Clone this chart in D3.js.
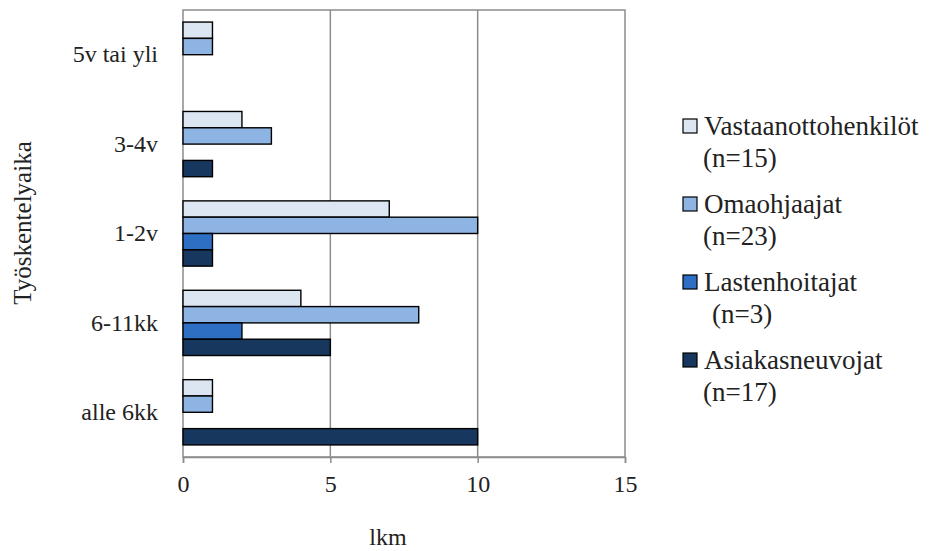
<!DOCTYPE html>
<html><head><meta charset="utf-8">
<script src="https://cdn.jsdelivr.net/npm/d3@7/dist/d3.min.js"></script>
<style>body{margin:0;background:#fff}svg{display:block}text{font-family:"Liberation Serif","Times New Roman","DejaVu Serif","Noto Serif",serif;fill:#222}</style>
</head><body><svg id="c" width="937" height="551"></svg>
<script>
const categories = ["5v tai yli", "3-4v", "1-2v", "6-11kk", "alle 6kk"];
const seriesNames = ["Vastaanottohenkilöt", "Omaohjaajat", "Lastenhoitajat", "Asiakasneuvojat"];
const seriesN = ["(n=15)", "(n=23)", "(n=3)", "(n=17)"];
const vastaanotto = [1, 2, 7, 4, 1];
const omaohjaajat = [1, 3, 10, 8, 1];
const lastenhoitajat = [0, 0, 1, 2, 0];
const asiakasneuvojat = [0, 1, 1, 5, 10];
const xTicks = [0, 5, 10, 15];
const colors = ["#dce6f2", "#8eb4e3", "#2e6fc4", "#17375e"];

const values = [vastaanotto, omaohjaajat, lastenhoitajat, asiakasneuvojat];
const svg = d3.select("#c");
const L = 183, R = 625, T = 10, B = 457;
const x = d3.scaleLinear().domain([0, 15]).range([L, R]);
const y = d3.scaleBand().domain(categories).range([T, B]).paddingInner(0.27).paddingOuter(0.135);
const inner = d3.scaleBand().domain(seriesNames).range([0, y.bandwidth()]);

svg.append("rect").attr("x", L).attr("y", T).attr("width", R - L).attr("height", B - T)
  .attr("fill", "none").attr("stroke", "#8c8c8c").attr("stroke-width", 1.5);
svg.append("g").selectAll("line").data(xTicks.slice(1, -1)).join("line")
  .attr("x1", d => x(d)).attr("x2", d => x(d)).attr("y1", T).attr("y2", B)
  .attr("stroke", "#8c8c8c").attr("stroke-width", 1.5);

const data = [];
categories.forEach((c, i) => seriesNames.forEach((s, j) => { if (values[j][i] > 0) data.push({c, s, v: values[j][i], j}); }));
svg.append("g").selectAll("rect").data(data).join("rect")
  .attr("x", x(0)).attr("y", d => y(d.c) + inner(d.s))
  .attr("width", d => x(d.v) - x(0)).attr("height", inner.bandwidth())
  .attr("fill", d => colors[d.j]).attr("stroke", "#000").attr("stroke-width", 1.4);

const xa = svg.append("g").attr("transform", `translate(0,${B})`)
  .call(d3.axisBottom(x).tickValues(xTicks).tickSize(6).tickPadding(12).tickFormat(d3.format("d")));
xa.attr("font-family", null).attr("font-size", null);
xa.select(".domain").attr("stroke", "#8c8c8c").attr("stroke-width", 1.5);
xa.selectAll(".tick line").attr("stroke", "#8c8c8c").attr("stroke-width", 1.5);
xa.selectAll("text").attr("font-size", 24).attr("fill", "#222");

const ya = svg.append("g").attr("transform", `translate(${L},0)`)
  .call(d3.axisLeft(y).tickSize(0).tickPadding(25));
ya.attr("font-family", null).attr("font-size", null);
ya.select(".domain").remove();
ya.selectAll("text").attr("font-size", 24).attr("fill", "#222");

svg.append("text").attr("x", 388).attr("y", 545).attr("text-anchor", "middle").attr("font-size", 24).text("lkm");
svg.append("text").attr("transform", "translate(31,223) rotate(-90)").attr("text-anchor", "middle").attr("font-size", 25).text("Työskentelyaika");

const lg = svg.append("g");
const ly = [126, 204, 282, 360];
const nIndent = [703, 703, 712, 703];
seriesNames.forEach((s, j) => {
  lg.append("rect").attr("x", 683).attr("y", ly[j] - 7).attr("width", 14).attr("height", 14)
    .attr("fill", colors[j]).attr("stroke", "#000").attr("stroke-width", 1.2);
  lg.append("text").attr("x", 704).attr("y", ly[j] + 9).attr("font-size", 27).text(s);
  lg.append("text").attr("x", nIndent[j]).attr("y", ly[j] + 41).attr("font-size", 27).text(seriesN[j]);
});
</script></body></html>
